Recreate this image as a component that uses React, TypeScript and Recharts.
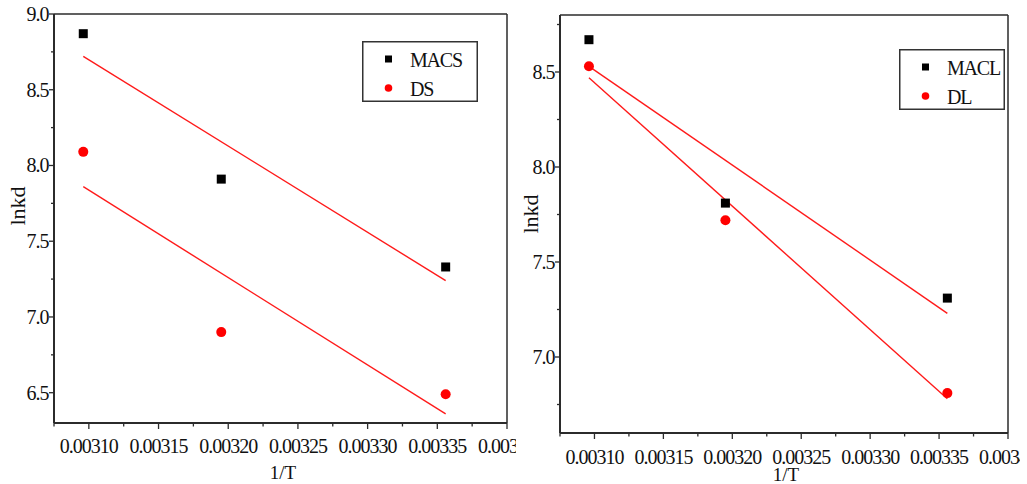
import React from "react";
import { ScatterChart, Scatter, XAxis, YAxis, ReferenceLine, Legend } from "recharts";

const SERIF = '"Liberation Serif", "Times New Roman", serif';

// 1/T for the three temperatures
const invT = [0.003096, 0.003195, 0.003356];

// lnkd measured values
const macs = [8.87, 7.91, 7.33];
const ds = [8.09, 6.9, 6.49];
const macl = [8.67, 7.81, 7.31];
const dl = [8.53, 7.72, 6.81];

// end points of the linear fits
const fitT = [0.003096, 0.003356];
const macsFit = [8.72, 7.24];
const dsFit = [7.86, 6.36];
const maclFit = [8.53, 7.23];
const dlFit = [8.47, 6.78];

const xMajor = [0.0031, 0.00315, 0.0032, 0.00325, 0.0033, 0.00335, 0.0034];
const xMinor = [0.003075, 0.003125, 0.003175, 0.003225, 0.003275, 0.003325, 0.003375];
const yMajorLeft = [6.5, 7.0, 7.5, 8.0, 8.5, 9.0];
const yMinorLeft = [6.75, 7.25, 7.75, 8.25, 8.75];
const yMajorRight = [7.0, 7.5, 8.0, 8.5];
const yMinorRight = [6.75, 7.25, 7.75, 8.25, 8.75];

const toPoints = (xs: number[], ys: number[]) => xs.map((x, i) => ({ x, y: ys[i] }));
const has = (arr: number[], v: number) => arr.some((a) => Math.abs(a - v) < 1e-9);
const merge = (a: number[], b: number[]) => [...a, ...b].sort((p, q) => p - q);

const AXIS = "#2b2b2b";
const RED = "#ff1a1a";
const INK = "#111";

const square = (props: any) => (
  <rect x={props.cx - 4.5} y={props.cy - 4.5} width={9} height={9} fill="#000" />
);
const dot = (props: any) => <circle cx={props.cx} cy={props.cy} r={5} fill="#ff0000" />;
const noShape = () => <g />;

function makeXTick(labelGap: number) {
  return (props: any) => {
    const { x, y, payload } = props;
    const major = has(xMajor, payload.value);
    return (
      <g>
        <line x1={x} x2={x} y1={y} y2={y + (major ? 6 : 3.5)} stroke={AXIS} strokeWidth={1.3} />
        {major && (
          <text
            x={x}
            y={y + labelGap}
            textAnchor="middle"
            fontFamily={SERIF}
            fontSize={20}
            letterSpacing={-1}
            fill={INK}
          >
            {payload.value.toFixed(5)}
          </text>
        )}
      </g>
    );
  };
}

function makeYTick(majors: number[]) {
  return (props: any) => {
    const { x, y, payload } = props;
    const major = has(majors, payload.value);
    return (
      <g>
        <line x1={x} x2={x - (major ? 5 : 3)} y1={y} y2={y} stroke={AXIS} strokeWidth={1.3} />
        {major && (
          <text
            x={x - 5.5}
            y={y}
            dy="0.35em"
            textAnchor="end"
            fontFamily={SERIF}
            fontSize={20}
            letterSpacing={-1}
            fill={INK}
          >
            {payload.value.toFixed(1)}
          </text>
        )}
      </g>
    );
  };
}

type Item = { name: string; kind: "square" | "dot" };

function LegendBox({ items, width, height }: { items: Item[]; width: number; height: number }) {
  return (
    <svg width={width} height={height} style={{ display: "block" }}>
      <rect x={0.75} y={0.75} width={width - 1.5} height={height - 1.5} fill="#fff" stroke="#333" strokeWidth={1.5} />
      {items.map((it, i) => {
        const cy = 18 + i * 29;
        return (
          <g key={it.name}>
            {it.kind === "square" ? (
              <rect x={23} y={cy - 3.5} width={7} height={7} fill="#000" />
            ) : (
              <circle cx={26.5} cy={cy} r={3.8} fill="#ff0000" />
            )}
            <text x={48} y={cy + 7.5} fontFamily={SERIF} fontSize={20} letterSpacing={-1.2} fill={INK}>
              {it.name}
            </text>
          </g>
        );
      })}
    </svg>
  );
}

type PanelProps = {
  left: number;
  width: number;
  margin: { top: number; right: number; bottom: number; left: number };
  yDomain: [number, number];
  yMajor: number[];
  yMinor: number[];
  black: number[];
  red: number[];
  blackFit: number[];
  redFit: number[];
  names: [string, string];
  legend: { left: number; top: number; width: number; height: number };
  xLabelGap: number;
  xTitle: { x: number; y: number };
  yTitle: { x: number; y: number };
};

function Panel(p: PanelProps) {
  const items: Item[] = [
    { name: p.names[0], kind: "square" },
    { name: p.names[1], kind: "dot" },
  ];
  return (
    <div style={{ position: "absolute", left: p.left, top: 0, width: p.width, height: 484, overflow: "hidden" }}>
      <ScatterChart width={p.width} height={484} margin={p.margin}>
        <XAxis
          type="number"
          dataKey="x"
          domain={[0.003075, 0.0034]}
          allowDataOverflow
          ticks={merge(xMajor, xMinor)}
          interval={0}
          height={1}
          tickSize={0}
          tickMargin={0}
          tickLine={false}
          tick={makeXTick(p.xLabelGap)}
          axisLine={{ stroke: AXIS, strokeWidth: 2 }}
          label={{
            content: () => (
              <text x={p.xTitle.x} y={p.xTitle.y} textAnchor="middle" fontFamily={SERIF} fontSize={19} fill={INK}>
                1/T
              </text>
            ),
          }}
        />
        <YAxis
          type="number"
          dataKey="y"
          domain={p.yDomain}
          allowDataOverflow
          ticks={merge(p.yMajor, p.yMinor)}
          interval={0}
          width={1}
          tickSize={0}
          tickMargin={0}
          tickLine={false}
          tick={makeYTick(p.yMajor)}
          axisLine={{ stroke: AXIS, strokeWidth: 2 }}
          label={{
            content: () => (
              <text
                x={p.yTitle.x}
                y={p.yTitle.y}
                textAnchor="middle"
                transform={`rotate(-90 ${p.yTitle.x} ${p.yTitle.y})`}
                fontFamily={SERIF}
                fontSize={22}
                fill={INK}
              >
                lnkd
              </text>
            ),
          }}
        />
        {/* top and right edges of the frame */}
        <ReferenceLine y={p.yDomain[1]} stroke={AXIS} strokeWidth={1.3} />
        <ReferenceLine x={0.0034} stroke={AXIS} strokeWidth={1.5} />

        <Scatter
          data={toPoints(fitT, p.blackFit)}
          line={{ stroke: RED, strokeWidth: 1.4 }}
          shape={noShape}
          isAnimationActive={false}
          legendType="none"
        />
        <Scatter
          data={toPoints(fitT, p.redFit)}
          line={{ stroke: RED, strokeWidth: 1.4 }}
          shape={noShape}
          isAnimationActive={false}
          legendType="none"
        />
        <Scatter name={p.names[0]} data={toPoints(invT, p.black)} shape={square} isAnimationActive={false} />
        <Scatter name={p.names[1]} data={toPoints(invT, p.red)} shape={dot} isAnimationActive={false} />

        <Legend
          layout="vertical"
          align="center"
          verticalAlign="middle"
          wrapperStyle={{
            position: "absolute",
            left: p.legend.left,
            top: p.legend.top,
            width: p.legend.width,
            height: p.legend.height,
          }}
          content={() => <LegendBox items={items} width={p.legend.width} height={p.legend.height} />}
        />
      </ScatterChart>
    </div>
  );
}

export default function App() {
  return (
    <div style={{ position: "absolute", left: 0, top: 0, width: 1027, height: 484, background: "#fff", overflow: "hidden" }}>
      <Panel
        left={0}
        width={516}
        margin={{ top: 14, right: 9, bottom: 60, left: 53 }}
        yDomain={[6.3, 9.0]}
        yMajor={yMajorLeft}
        yMinor={yMinorLeft}
        black={macs}
        red={ds}
        blackFit={macsFit}
        redFit={dsFit}
        names={["MACS", "DS"]}
        legend={{ left: 362, top: 41, width: 116, height: 61 }}
        xLabelGap={30}
        xTitle={{ x: 283, y: 479 }}
        yTitle={{ x: 25, y: 206 }}
      />
      <Panel
        left={516}
        width={504}
        margin={{ top: 15, right: 12, bottom: 50, left: 43 }}
        yDomain={[6.6, 8.8]}
        yMajor={yMajorRight}
        yMinor={yMinorRight}
        black={macl}
        red={dl}
        blackFit={maclFit}
        redFit={dlFit}
        names={["MACL", "DL"]}
        legend={{ left: 383, top: 49, width: 106, height: 61 }}
        xLabelGap={31}
        xTitle={{ x: 270, y: 481 }}
        yTitle={{ x: 22, y: 214 }}
      />
    </div>
  );
}
